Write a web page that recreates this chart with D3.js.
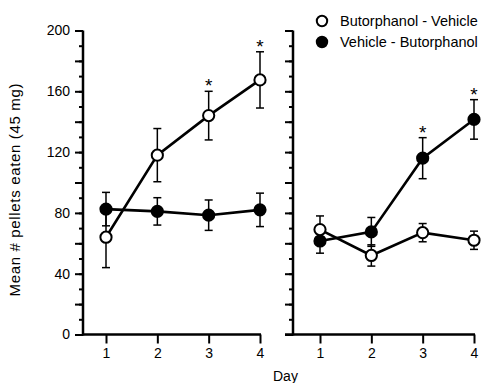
<!DOCTYPE html>
<html>
<head>
<meta charset="utf-8">
<script src="https://cdn.jsdelivr.net/npm/d3@7"></script>
<style>
  body { margin: 0; background: #fff; }
  svg { display: block; font-family: "Liberation Sans", Arial, sans-serif; }
  .tick text { font-size: 14px; fill: #000; }
  .tick line { stroke: #000; stroke-width: 2; }
</style>
</head>
<body>
<div id="chart"></div>
<script>
const days = [1, 2, 3, 4];
const yTicks = [0, 40, 80, 120, 160, 200];

// Butorphanol-Vehicle (open) and Vehicle-Butorphanol (filled), mean and SEM
const leftOpenMean = [64, 118, 144, 167.5];
const leftOpenErr = [20, 17.5, 16, 18.5];
const leftFilledMean = [82.5, 81, 78.5, 82];
const leftFilledErr = [11, 9, 10, 11];
const leftStars = [3, 4];

const rightOpenMean = [69, 52, 67, 62];
const rightOpenErr = [9, 7, 6, 6];
const rightFilledMean = [61.5, 67.5, 116, 141.5];
const rightFilledErr = [8, 9.5, 13.5, 13];
const rightStars = [3, 4];

const svg = d3.select('#chart')
  .append('svg')
  .attr('width', 486)
  .attr('height', 383);

const y = d3.scaleLinear().domain([0, 200]).range([334.5, 30.5]);

const panels = [
  { xRange: [106, 260], axisX: 83, xStart: 83, labels: true,
    open: leftOpenMean, openErr: leftOpenErr, filled: leftFilledMean, filledErr: leftFilledErr,
    stars: leftStars, starSeries: 'open' },
  { xRange: [320, 474], axisX: 293, xStart: 285, labels: false,
    open: rightOpenMean, openErr: rightOpenErr, filled: rightFilledMean, filledErr: rightFilledErr,
    stars: rightStars, starSeries: 'filled' }
];

panels.forEach(p => {
  const x = d3.scaleLinear().domain([1, 4]).range(p.xRange);
  const g = svg.append('g');

  // y axis: minor ticks every 10, mid every 20, labelled every 40
  g.append('g')
    .attr('transform', `translate(${p.axisX},0)`)
    .call(d3.axisLeft(y).tickValues(d3.range(0, 201, 10)).tickSize(4).tickFormat(''))
    .call(a => a.select('.domain').remove());
  g.append('g')
    .attr('transform', `translate(${p.axisX},0)`)
    .call(d3.axisLeft(y).tickValues(d3.range(0, 201, 20)).tickSize(8).tickFormat(''))
    .call(a => a.select('.domain').remove());
  if (p.labels) {
    g.append('g')
      .attr('transform', `translate(${p.axisX},0)`)
      .call(d3.axisLeft(y).tickValues(yTicks).tickSize(11).tickPadding(2))
      .call(a => a.select('.domain').remove())
      .call(a => a.selectAll('.tick line').remove());
  }
  g.append('line')
    .attr('x1', p.axisX).attr('x2', p.axisX)
    .attr('y1', y(200)).attr('y2', y(0) + 1)
    .attr('stroke', '#000').attr('stroke-width', 2.5);

  // x axis
  g.append('g')
    .attr('transform', `translate(0,${y(0)})`)
    .call(d3.axisBottom(x).tickValues(days).tickSize(9).tickPadding(5).tickFormat(d3.format('d')))
    .call(a => a.select('.domain').remove());
  g.append('line')
    .attr('x1', p.xStart).attr('x2', x(4) + 1)
    .attr('y1', y(0)).attr('y2', y(0))
    .attr('stroke', '#000').attr('stroke-width', 2.5);

  const series = [
    { key: 'filled', mean: p.filled, err: p.filledErr, fill: '#000' },
    { key: 'open', mean: p.open, err: p.openErr, fill: '#fff' }
  ];

  series.forEach(s => {
    const pts = days.map((d, i) => ({ day: d, v: s.mean[i], e: s.err[i] }));

    g.append('path')
      .datum(pts)
      .attr('fill', 'none')
      .attr('stroke', '#000')
      .attr('stroke-width', 2.6)
      .attr('d', d3.line().x(d => x(d.day)).y(d => y(d.v)));

    const eb = g.append('g').selectAll('g')
      .data(pts).enter().append('g')
      .attr('stroke', '#000').attr('stroke-width', 1.5);
    eb.append('line')
      .attr('x1', d => x(d.day)).attr('x2', d => x(d.day))
      .attr('y1', d => y(d.v + d.e)).attr('y2', d => y(d.v - d.e));
    eb.append('line')
      .attr('x1', d => x(d.day) - 4).attr('x2', d => x(d.day) + 4)
      .attr('y1', d => y(d.v + d.e)).attr('y2', d => y(d.v + d.e));
    eb.append('line')
      .attr('x1', d => x(d.day) - 4).attr('x2', d => x(d.day) + 4)
      .attr('y1', d => y(d.v - d.e)).attr('y2', d => y(d.v - d.e));

    g.append('g').selectAll('circle')
      .data(pts).enter().append('circle')
      .attr('cx', d => x(d.day)).attr('cy', d => y(d.v))
      .attr('r', 5.6)
      .attr('fill', s.fill)
      .attr('stroke', '#000').attr('stroke-width', 2);

    if (p.starSeries === s.key) {
      g.selectAll(null)
        .data(pts.filter(d => p.stars.includes(d.day)))
        .enter().append('text')
        .attr('x', d => x(d.day)).attr('y', d => y(d.v + d.e) + 1)
        .attr('text-anchor', 'middle')
        .style('font-size', '19px')
        .style('fill', '#000')
        .text('*');
    }
  });
});

// Axis titles
svg.append('text')
  .attr('transform', 'translate(20,190) rotate(-90)')
  .attr('text-anchor', 'middle')
  .attr('textLength', 213)
  .attr('lengthAdjust', 'spacing')
  .style('font-size', '15px')
  .text('Mean # pellets eaten  (45 mg)');

svg.append('text')
  .attr('x', 273).attr('y', 381)
  .style('font-size', '14px')
  .text('Day');

// Legend
const legend = [
  { label: 'Butorphanol - Vehicle', fill: '#fff', y: 21 },
  { label: 'Vehicle - Butorphanol', fill: '#000', y: 42 }
];
const lg = svg.append('g').selectAll('g')
  .data(legend).enter().append('g');
lg.append('circle')
  .attr('cx', 322).attr('cy', d => d.y).attr('r', 5.2)
  .attr('fill', d => d.fill).attr('stroke', '#000').attr('stroke-width', 2);
lg.append('text')
  .attr('x', 340).attr('y', d => d.y + 5)
  .style('font-size', '14.5px')
  .text(d => d.label);
</script>
</body>
</html>
